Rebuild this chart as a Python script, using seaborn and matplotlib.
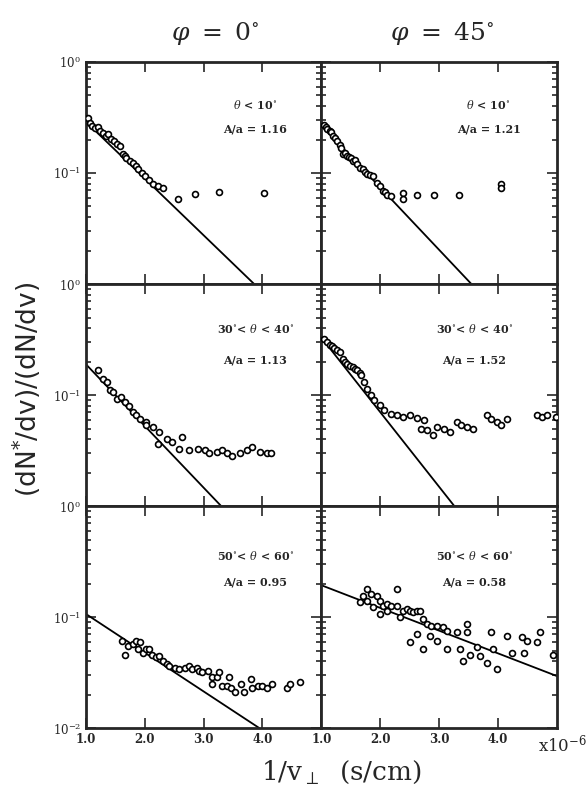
import numpy as np
import pandas as pd
import matplotlib.pyplot as plt
import seaborn as sns
from matplotlib.ticker import LogLocator, NullFormatter

sns.set_style("ticks")
plt.rcParams['font.family'] = ['DejaVu Serif']
plt.rcParams['mathtext.fontset'] = 'dejavuserif'

# x is 1/v_perp in units of 1e-6 s/cm, y is (dN*/dv)/(dN/dv)
# phi = 0, theta < 10
x_a = [1.03, 1.07, 1.10, 1.15, 1.20, 1.24, 1.29, 1.34, 1.37, 1.42, 1.47, 1.53, 1.58,
       1.63, 1.66, 1.69, 1.75, 1.80, 1.85, 1.88, 1.95, 2.00, 2.08, 2.14, 2.22, 2.31,
       2.56, 2.85, 3.27, 4.03]
y_a = [0.310, 0.285, 0.267, 0.256, 0.262, 0.241, 0.231, 0.217, 0.226, 0.204, 0.195, 0.184, 0.176,
       0.149, 0.143, 0.137, 0.128, 0.123, 0.116, 0.109, 0.100, 0.094, 0.086, 0.079, 0.076, 0.073,
       0.058, 0.065, 0.067, 0.066]
# phi = 45, theta < 10
x_b = [1.05, 1.08, 1.10, 1.14, 1.17, 1.19, 1.24, 1.27, 1.31, 1.33, 1.36, 1.40, 1.43, 1.47,
       1.51, 1.53, 1.57, 1.60, 1.65, 1.70, 1.74, 1.78, 1.83, 1.87, 1.95, 1.99, 2.04, 2.08,
       2.11, 2.19, 2.38, 2.38, 2.62, 2.92, 3.33, 4.06, 4.06]
y_b = [0.270, 0.258, 0.250, 0.241, 0.232, 0.217, 0.205, 0.195, 0.180, 0.168, 0.149, 0.152, 0.143, 0.140,
       0.137, 0.128, 0.130, 0.121, 0.111, 0.109, 0.103, 0.098, 0.096, 0.094, 0.081, 0.077, 0.069, 0.067,
       0.064, 0.062, 0.066, 0.058, 0.063, 0.063, 0.063, 0.079, 0.073]
# phi = 0, 30 < theta < 40
x_c = [1.20, 1.29, 1.36, 1.41, 1.46, 1.53, 1.59, 1.66, 1.73, 1.80, 1.86, 1.92, 2.03, 2.03,
       2.14, 2.22, 2.25, 2.37, 2.47, 2.59, 2.64, 2.76, 2.90, 3.02, 3.10, 3.22, 3.32, 3.39,
       3.49, 3.61, 3.73, 3.83, 3.95, 4.07, 4.15]
y_c = [0.167, 0.139, 0.131, 0.111, 0.106, 0.092, 0.096, 0.087, 0.080, 0.070, 0.066, 0.061, 0.057, 0.054,
       0.052, 0.036, 0.047, 0.040, 0.038, 0.033, 0.042, 0.032, 0.033, 0.032, 0.030, 0.031, 0.032, 0.030,
       0.028, 0.030, 0.032, 0.034, 0.031, 0.030, 0.030]
# phi = 45, 30 < theta < 40
x_d = [1.05, 1.09, 1.14, 1.18, 1.22, 1.26, 1.31, 1.36, 1.40, 1.44, 1.49, 1.53, 1.57, 1.61, 1.65,
       1.68, 1.73, 1.78, 1.85, 1.90, 1.99, 2.07, 2.19, 2.28, 2.38, 2.50, 2.63, 2.75, 2.70, 2.79,
       2.89, 2.97, 3.09, 3.18, 3.30, 3.38, 3.47, 3.57, 3.81, 3.89, 3.98, 4.06, 4.16, 4.66, 4.74,
       4.84, 4.99]
y_d = [0.320, 0.300, 0.285, 0.275, 0.268, 0.255, 0.242, 0.210, 0.200, 0.189, 0.184, 0.178, 0.172, 0.167, 0.158,
       0.151, 0.131, 0.113, 0.100, 0.090, 0.081, 0.073, 0.068, 0.066, 0.064, 0.066, 0.062, 0.060, 0.050, 0.049,
       0.044, 0.052, 0.050, 0.047, 0.057, 0.054, 0.052, 0.050, 0.066, 0.061, 0.057, 0.054, 0.061, 0.066, 0.064,
       0.066, 0.064]
# phi = 0, 50 < theta < 60
x_e = [1.61, 1.66, 1.71, 1.80, 1.86, 1.88, 1.92, 1.97, 2.03, 2.08, 2.12, 2.20, 2.25, 2.31, 2.37,
       2.42, 2.51, 2.59, 2.68, 2.76, 2.81, 2.88, 2.93, 2.98, 3.07, 3.14, 3.15, 3.22, 3.27, 3.31,
       3.39, 3.44, 3.47, 3.53, 3.64, 3.69, 3.81, 3.83, 3.92, 4.00, 4.08, 4.17, 4.41, 4.46, 4.63]
y_e = [0.061, 0.046, 0.055, 0.057, 0.061, 0.052, 0.060, 0.048, 0.052, 0.052, 0.046, 0.044, 0.045, 0.040, 0.038,
       0.036, 0.035, 0.034, 0.035, 0.036, 0.034, 0.035, 0.033, 0.032, 0.033, 0.029, 0.025, 0.029, 0.032, 0.024,
       0.024, 0.029, 0.023, 0.021, 0.025, 0.021, 0.028, 0.023, 0.024, 0.024, 0.023, 0.025, 0.023, 0.025, 0.026]
# phi = 45, 50 < theta < 60
x_f = [1.65, 1.70, 1.78, 1.85, 1.94, 1.77, 1.87, 1.99, 1.99, 2.04, 2.11, 2.12, 2.19, 2.28, 2.28,
       2.33, 2.38, 2.45, 2.50, 2.55, 2.63, 2.67, 2.72, 2.79, 2.87, 2.96, 3.06, 3.13, 3.30, 3.47,
       3.47, 2.50, 2.63, 2.72, 2.84, 2.96, 3.13, 3.35, 3.40, 3.52, 3.64, 3.69, 3.82, 3.91, 3.99,
       3.89, 4.15, 4.23, 4.40, 4.45, 4.50, 4.66, 4.71, 4.93]
y_f = [0.136, 0.155, 0.179, 0.161, 0.155, 0.139, 0.123, 0.139, 0.106, 0.126, 0.131, 0.113, 0.126, 0.179, 0.126,
       0.100, 0.113, 0.118, 0.113, 0.111, 0.113, 0.113, 0.096, 0.086, 0.083, 0.083, 0.081, 0.075, 0.073, 0.073,
       0.086, 0.060, 0.070, 0.052, 0.067, 0.061, 0.052, 0.052, 0.040, 0.046, 0.054, 0.045, 0.039, 0.052, 0.034,
       0.073, 0.067, 0.048, 0.066, 0.048, 0.061, 0.060, 0.073, 0.046]

# straight-line fits (end points)
fit_x = [[1.0, 3.86], [1.0, 3.55], [1.0, 3.30], [1.0, 3.26], [1.0, 3.95], [1.0, 5.0]]
fit_y = [[0.29, 0.01], [0.27, 0.01], [0.19, 0.01], [0.33, 0.01], [0.107, 0.01], [0.194, 0.0295]]

theta_labels = [r'$\theta$ < 10$^{\circ}$', r'$\theta$ < 10$^{\circ}$',
                r'30$^{\circ}$< $\theta$ < 40$^{\circ}$', r'30$^{\circ}$< $\theta$ < 40$^{\circ}$',
                r'50$^{\circ}$< $\theta$ < 60$^{\circ}$', r'50$^{\circ}$< $\theta$ < 60$^{\circ}$']
ratio_labels = ['A/a = 1.16', 'A/a = 1.21', 'A/a = 1.13', 'A/a = 1.52', 'A/a = 0.95', 'A/a = 0.58']
phi_titles = [r'$\varphi\ =\ 0^{\circ}$', r'$\varphi\ =\ 45^{\circ}$']

xs = [x_a, x_b, x_c, x_d, x_e, x_f]
ys = [y_a, y_b, y_c, y_d, y_e, y_f]
label_pos = [(0.72, 0.81, 0.70), (0.71, 0.81, 0.70), (0.72, 0.80, 0.66),
             (0.65, 0.80, 0.66), (0.72, 0.78, 0.66), (0.65, 0.78, 0.66)]

fig, axes = plt.subplots(3, 2, figsize=(5.88, 7.95), dpi=100)
fig.subplots_adjust(left=0.146, right=0.947, top=0.922, bottom=0.084, hspace=0, wspace=0)

for i, ax in enumerate(axes.flat):
    row, col = divmod(i, 2)
    df = pd.DataFrame({'x': xs[i], 'y': ys[i]})
    sns.lineplot(x=fit_x[i], y=fit_y[i], ax=ax, color='black', lw=1.3)
    sns.scatterplot(data=df, x='x', y='y', ax=ax, marker='o', s=18,
                    facecolor='white', edgecolor='black', linewidth=1.2, zorder=3)
    ax.set_yscale('log')
    ax.set_xlim(1.0, 5.0)
    ax.set_ylim(0.01, 1.0)
    ax.set_xlabel('')
    ax.set_ylabel('')
    for s in ax.spines.values():
        s.set_linewidth(2)
    ax.tick_params(which='both', direction='in', top=True, right=True, width=1.2)
    ax.tick_params(which='major', length=7)
    ax.tick_params(which='minor', length=3.5)
    ax.yaxis.set_minor_locator(LogLocator(base=10, subs=np.arange(2, 10)))
    ax.yaxis.set_minor_formatter(NullFormatter())
    ax.set_xticks([1, 2, 3, 4])
    if row == 2:
        ax.set_xticklabels(['1.0', '2.0', '3.0', '4.0'], fontsize=8.5, fontweight='bold')
    else:
        ax.set_xticklabels([])
    ax.set_yticks([0.01, 0.1, 1.0])
    if col == 0:
        if row == 2:
            ax.set_yticklabels([r'$10^{-2}$', r'$10^{-1}$', r'$10^{0}$'], fontsize=8.5)
        else:
            ax.set_yticklabels(['', r'$10^{-1}$', r'$10^{0}$'], fontsize=8.5)
    else:
        ax.set_yticklabels([])
    tx, ty1, ty2 = label_pos[i]
    ax.text(tx, ty1, theta_labels[i], transform=ax.transAxes, ha='center', va='center',
            fontsize=8, fontweight='bold')
    ax.text(tx, ty2, ratio_labels[i], transform=ax.transAxes, ha='center', va='center',
            fontsize=8, fontweight='bold')

fig.text(0.366, 0.958, phi_titles[0], ha='center', va='center', fontsize=18)
fig.text(0.752, 0.958, phi_titles[1], ha='center', va='center', fontsize=18)
fig.text(0.046, 0.51, '(dN$^{*}$/dv)/(dN/dv)', rotation=90, ha='center', va='center',
         fontsize=19, family='DejaVu Sans')
fig.text(0.58, 0.028, r'1/v$_{\perp}$  (s/cm)', ha='center', va='center', fontsize=19)
fig.text(0.998, 0.064, r'x10$^{-6}$', ha='right', va='center', fontsize=12)

plt.savefig('out.png', dpi=100)
